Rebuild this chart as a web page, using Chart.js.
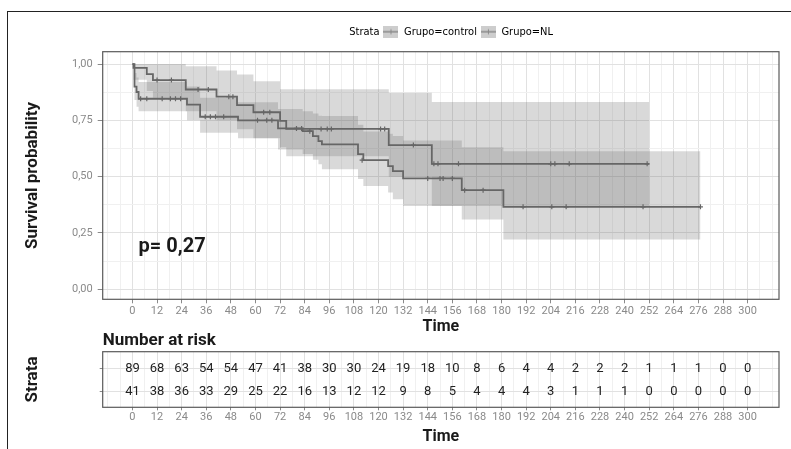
<!DOCTYPE html>
<html>
<head>
<meta charset="utf-8">
<script src="https://cdn.jsdelivr.net/npm/chart.js@4.4.1/dist/chart.umd.min.js"></script>
<style>
  html, body { margin: 0; padding: 0; background: #fff; }
  body { width: 791px; height: 449px; position: relative; overflow: hidden; }
  #frame { position: absolute; left: 7px; top: 11px; right: -5px; bottom: -5px;
           border-left: 1.5px solid #222; border-top: 1.5px solid #222; }
  canvas { position: absolute; left: 0; }
  #surv { top: 0; }
  #risk { top: 320px; }
</style>
</head>
<body>
<div id="frame"></div>
<canvas id="surv" width="791" height="337"></canvas>
<canvas id="risk" width="791" height="129"></canvas>
<script>
'use strict';
// axis breaks
const timeBreaks = [0, 12, 24, 36, 48, 60, 72, 84, 96, 108, 120, 132, 144, 156, 168, 180, 192, 204, 216, 228, 240, 252, 264, 276, 288, 300];
const survBreaks = [0, 0.25, 0.5, 0.75, 1];

// Grupo=NL : step curve + confidence band
const nlTime  = [0, 0.5, 7, 10, 26, 41, 51, 59, 72, 75, 125, 146, 252];
const nlSurv  = [1, 0.983, 0.955, 0.929, 0.887, 0.855, 0.818, 0.786, 0.748, 0.712, 0.640, 0.557, 0.557];
const nlUpper = [1, 1, 1, 1, 0.99, 0.972, 0.954, 0.924, 0.888, 0.888, 0.873, 0.831, 0.831];
const nlLower = [1, 0.93, 0.88, 0.85, 0.79, 0.75, 0.71, 0.67, 0.63, 0.59, 0.50, 0.369, 0.369];
const nlCensTime = [12, 19, 32, 37, 47, 49, 64, 67, 92, 95, 97, 121, 123, 137, 147, 149, 159, 204, 206, 213, 251];
const nlCensSurv = [0.929, 0.929, 0.887, 0.887, 0.855, 0.855, 0.786, 0.786, 0.712, 0.712, 0.712, 0.712, 0.712, 0.640, 0.557, 0.557, 0.557, 0.557, 0.557, 0.557, 0.557];

// Grupo=control
const ctTime  = [0, 1, 2, 3, 26.6, 33, 51.5, 71, 83, 88, 90.7, 92.4, 110, 112.6, 124.7, 127, 132, 160.6, 180.9, 277];
const ctSurv  = [1, 0.90, 0.876, 0.846, 0.82, 0.766, 0.75, 0.714, 0.702, 0.68, 0.658, 0.643, 0.60, 0.573, 0.547, 0.524, 0.492, 0.44, 0.366, 0.366];
const ctUpper = [1, 0.96, 0.94, 0.92, 0.90, 0.85, 0.83, 0.80, 0.79, 0.78, 0.77, 0.769, 0.73, 0.70, 0.69, 0.68, 0.66, 0.63, 0.613, 0.613];
const ctLower = [1, 0.84, 0.81, 0.79, 0.75, 0.695, 0.67, 0.62, 0.60, 0.575, 0.555, 0.533, 0.49, 0.458, 0.43, 0.40, 0.369, 0.31, 0.221, 0.221];
const ctCensTime = [4, 7, 14.5, 18.5, 21, 23.5, 35.5, 38, 40.5, 44.5, 61, 65.5, 68, 80, 82.5, 86.5, 112, 144, 150, 151.5, 156, 162, 171, 190.5, 204.5, 211.5, 249, 277];
const ctCensSurv = [0.846, 0.846, 0.846, 0.846, 0.846, 0.846, 0.766, 0.766, 0.766, 0.766, 0.75, 0.75, 0.75, 0.714, 0.714, 0.702, 0.573, 0.492, 0.492, 0.492, 0.492, 0.44, 0.44, 0.366, 0.366, 0.366, 0.366, 0.366];

// number at risk at each time break
const riskControl = [89, 68, 63, 54, 54, 47, 41, 38, 30, 30, 24, 19, 18, 10, 8, 6, 4, 4, 2, 2, 2, 1, 1, 1, 0, 0];
const riskNL      = [41, 38, 36, 33, 29, 25, 22, 16, 13, 12, 12, 9, 8, 5, 4, 4, 4, 3, 1, 1, 1, 0, 0, 0, 0, 0];

const pLabel = 'p= 0,27';

const lineCol = '#666666';
const bandCol = 'rgba(110,110,110,0.26)';
const tickCol = '#8a8a8a';
const titleCol = '#1a1a1a';
const FONT = 'Roboto';
const NARROW = "'Liberation Sans Narrow', 'DejaVu Sans Condensed', Roboto, sans-serif";

const pts = (xs, ys) => xs.map((x, i) => ({x: x, y: ys[i]}));
const isTimeMajor = v => timeBreaks.includes(Math.round(v * 1000) / 1000);
const isSurvMajor = v => survBreaks.some(b => Math.abs(b - v) < 1e-6);

function legendKey(blank) {
	const c = document.createElement('canvas');
	c.width = 15; c.height = 12;
	if (blank) return c;
	const g = c.getContext('2d');
	g.fillStyle = '#cdcdcd';
	g.fillRect(0, 0, 15, 12);
	g.strokeStyle = '#8a8a8a';
	g.lineWidth = 1.5;
	g.beginPath(); g.moveTo(0, 6); g.lineTo(15, 6); g.stroke();
	g.lineWidth = 1;
	g.beginPath(); g.moveTo(7.5, 3.5); g.lineTo(7.5, 8.5); g.stroke();
	return c;
}

function timeAxis(tickLen, pad, height) {
	return {
		type: 'linear', min: -14.5, max: 315.3,
		afterFit: s => { s.height = height; },
		ticks: {
			stepSize: 6, includeBounds: false, autoSkip: false, maxRotation: 0, minRotation: 0,
			padding: pad, color: tickCol, font: {family: FONT, size: 11},
			callback: v => isTimeMajor(v) ? String(Math.round(v)) : ''
		},
		grid: {
			color: c => c.tick && isTimeMajor(c.tick.value) ? '#e1e1e1' : '#f0f0f0',
			tickColor: c => c.tick && isTimeMajor(c.tick.value) ? '#8a8a8a' : 'rgba(0,0,0,0)',
			tickLength: tickLen
		},
		border: {display: false},
		title: {display: true, text: 'Time', color: titleCol, padding: 0,
			font: {family: FONT, size: 16, weight: 'bold'}}
	};
}

const panelBorder = {
	id: 'panelBorder',
	afterDatasetsDraw(chart) {
		const a = chart.chartArea, ctx = chart.ctx;
		ctx.save();
		ctx.strokeStyle = '#5a5a5a';
		ctx.lineWidth = 1.2;
		ctx.strokeRect(a.left, a.top, a.right - a.left, a.bottom - a.top);
		ctx.restore();
	}
};

const pvalText = {
	id: 'pvalText',
	afterDatasetsDraw(chart) {
		const ctx = chart.ctx, sx = chart.scales.x, sy = chart.scales.y;
		ctx.save();
		ctx.font = 'bold 20px ' + FONT;
		ctx.fillStyle = titleCol;
		ctx.textAlign = 'left';
		ctx.textBaseline = 'alphabetic';
		ctx.fillText(pLabel, sx.getPixelForValue(3), sy.getPixelForValue(0.165));
		ctx.restore();
	}
};

const riskLabels = {
	id: 'riskLabels',
	afterDatasetsDraw(chart) {
		const ctx = chart.ctx;
		ctx.save();
		ctx.font = '13px ' + FONT;
		ctx.fillStyle = '#222';
		ctx.textAlign = 'center';
		ctx.textBaseline = 'middle';
		chart.data.datasets.forEach((ds, i) => {
			chart.getDatasetMeta(i).data.forEach((p, j) => {
				ctx.fillText(String(ds.data[j].n), p.x, p.y);
			});
		});
		ctx.restore();
	}
};

const stepLine = (label, xs, ys) => ({
	label: label, data: pts(xs, ys), stepped: true, borderColor: lineCol, borderWidth: 1.8,
	pointRadius: 0, fill: false
});
const censor = (label, xs, ys) => ({
	label: label, data: pts(xs, ys), showLine: false, pointStyle: 'cross', pointRadius: 2.5,
	borderColor: lineCol, borderWidth: 1.2, fill: false
});
const bandEdge = (label, xs, ys, fill) => ({
	label: label, data: pts(xs, ys), stepped: true, borderWidth: 0, borderColor: 'rgba(0,0,0,0)',
	backgroundColor: bandCol, pointRadius: 0, fill: fill
});

new Chart(document.getElementById('surv'), {
	type: 'line',
	data: {
		datasets: [
			stepLine('Grupo=control', ctTime, ctSurv),
			stepLine('Grupo=NL', nlTime, nlSurv),
			censor('control censor', ctCensTime, ctCensSurv),
			censor('NL censor', nlCensTime, nlCensSurv),
			bandEdge('control upper', ctTime, ctUpper, '+1'),
			bandEdge('control lower', ctTime, ctLower, false),
			bandEdge('NL upper', nlTime, nlUpper, '+1'),
			bandEdge('NL lower', nlTime, nlLower, false)
		]
	},
	options: {
		responsive: false,
		animation: false,
		events: [],
		layout: {padding: {left: 22.3, right: 12, top: 22.2, bottom: 0}},
		scales: {
			x: timeAxis(4, 1, 37.7),
			y: {
				type: 'linear', min: -0.045, max: 1.055,
				afterFit: s => { s.width = 80.4; },
				ticks: {
					stepSize: 0.125, includeBounds: false, padding: 5, color: tickCol,
					font: {family: FONT, size: 11},
					callback: v => isSurvMajor(v) ? v.toFixed(2).replace('.', ',') : ''
				},
				grid: {
					color: c => c.tick && isSurvMajor(c.tick.value) ? '#e1e1e1' : '#f0f0f0',
					tickColor: c => c.tick && isSurvMajor(c.tick.value) ? '#8a8a8a' : 'rgba(0,0,0,0)',
					tickLength: 5
				},
				border: {display: false},
				title: {display: true, text: 'Survival probability', color: titleCol, padding: 0,
					font: {family: FONT, size: 17, weight: 'bold'}}
			},
			gap: {
				axis: 'x', position: 'top', display: true,
				afterFit: s => { s.height = 4.5; },
				ticks: {display: false}, grid: {display: false}, border: {display: false}
			}
		},
		plugins: {
			tooltip: {enabled: false},
			legend: {
				display: true, position: 'top', fullSize: false,
				labels: {
					usePointStyle: true, pointStyleWidth: 15, boxWidth: 15, padding: 4,
					color: '#222', font: {family: NARROW, size: 11},
					generateLabels: () => [
						{text: 'Strata', pointStyle: legendKey(true), fillStyle: 'rgba(0,0,0,0)', strokeStyle: 'rgba(0,0,0,0)', lineWidth: 0, hidden: false},
						{text: 'Grupo=control', pointStyle: legendKey(false), fillStyle: '#cdcdcd', strokeStyle: lineCol, lineWidth: 0, hidden: false},
						{text: 'Grupo=NL', pointStyle: legendKey(false), fillStyle: '#cdcdcd', strokeStyle: lineCol, lineWidth: 0, hidden: false}
					]
				}
			}
		}
	},
	plugins: [panelBorder, pvalText]
});

new Chart(document.getElementById('risk'), {
	type: 'line',
	data: {
		datasets: [
			{label: 'Grupo=control', data: timeBreaks.map((t, i) => ({x: t, y: 2, n: riskControl[i]})), showLine: false, pointRadius: 0},
			{label: 'Grupo=NL', data: timeBreaks.map((t, i) => ({x: t, y: 1, n: riskNL[i]})), showLine: false, pointRadius: 0}
		]
	},
	options: {
		responsive: false,
		animation: false,
		events: [],
		layout: {padding: {left: 22.3, right: 12, top: 10.5, bottom: 2.4}},
		scales: {
			x: timeAxis(3, 0, 39.3),
			y: {
				type: 'linear', min: 0.34, max: 2.71,
				afterFit: s => { s.width = 80.4; },
				afterBuildTicks: s => { s.ticks = [{value: 1}, {value: 2}]; },
				ticks: {callback: () => '', padding: 0},
				grid: {color: '#e1e1e1', tickColor: '#8a8a8a', tickLength: 3},
				border: {display: false},
				title: {display: true, text: 'Strata', color: titleCol, padding: 0,
					font: {family: FONT, size: 17, weight: 'bold'}}
			}
		},
		plugins: {
			tooltip: {enabled: false},
			legend: {display: false},
			title: {
				display: true, text: 'Number at risk', align: 'start', fullSize: false,
				color: titleCol, font: {family: FONT, size: 17, weight: 'bold'},
				padding: {top: 0, bottom: 0.8}
			}
		}
	},
	plugins: [panelBorder, riskLabels]
});
</script>
</body>
</html>
